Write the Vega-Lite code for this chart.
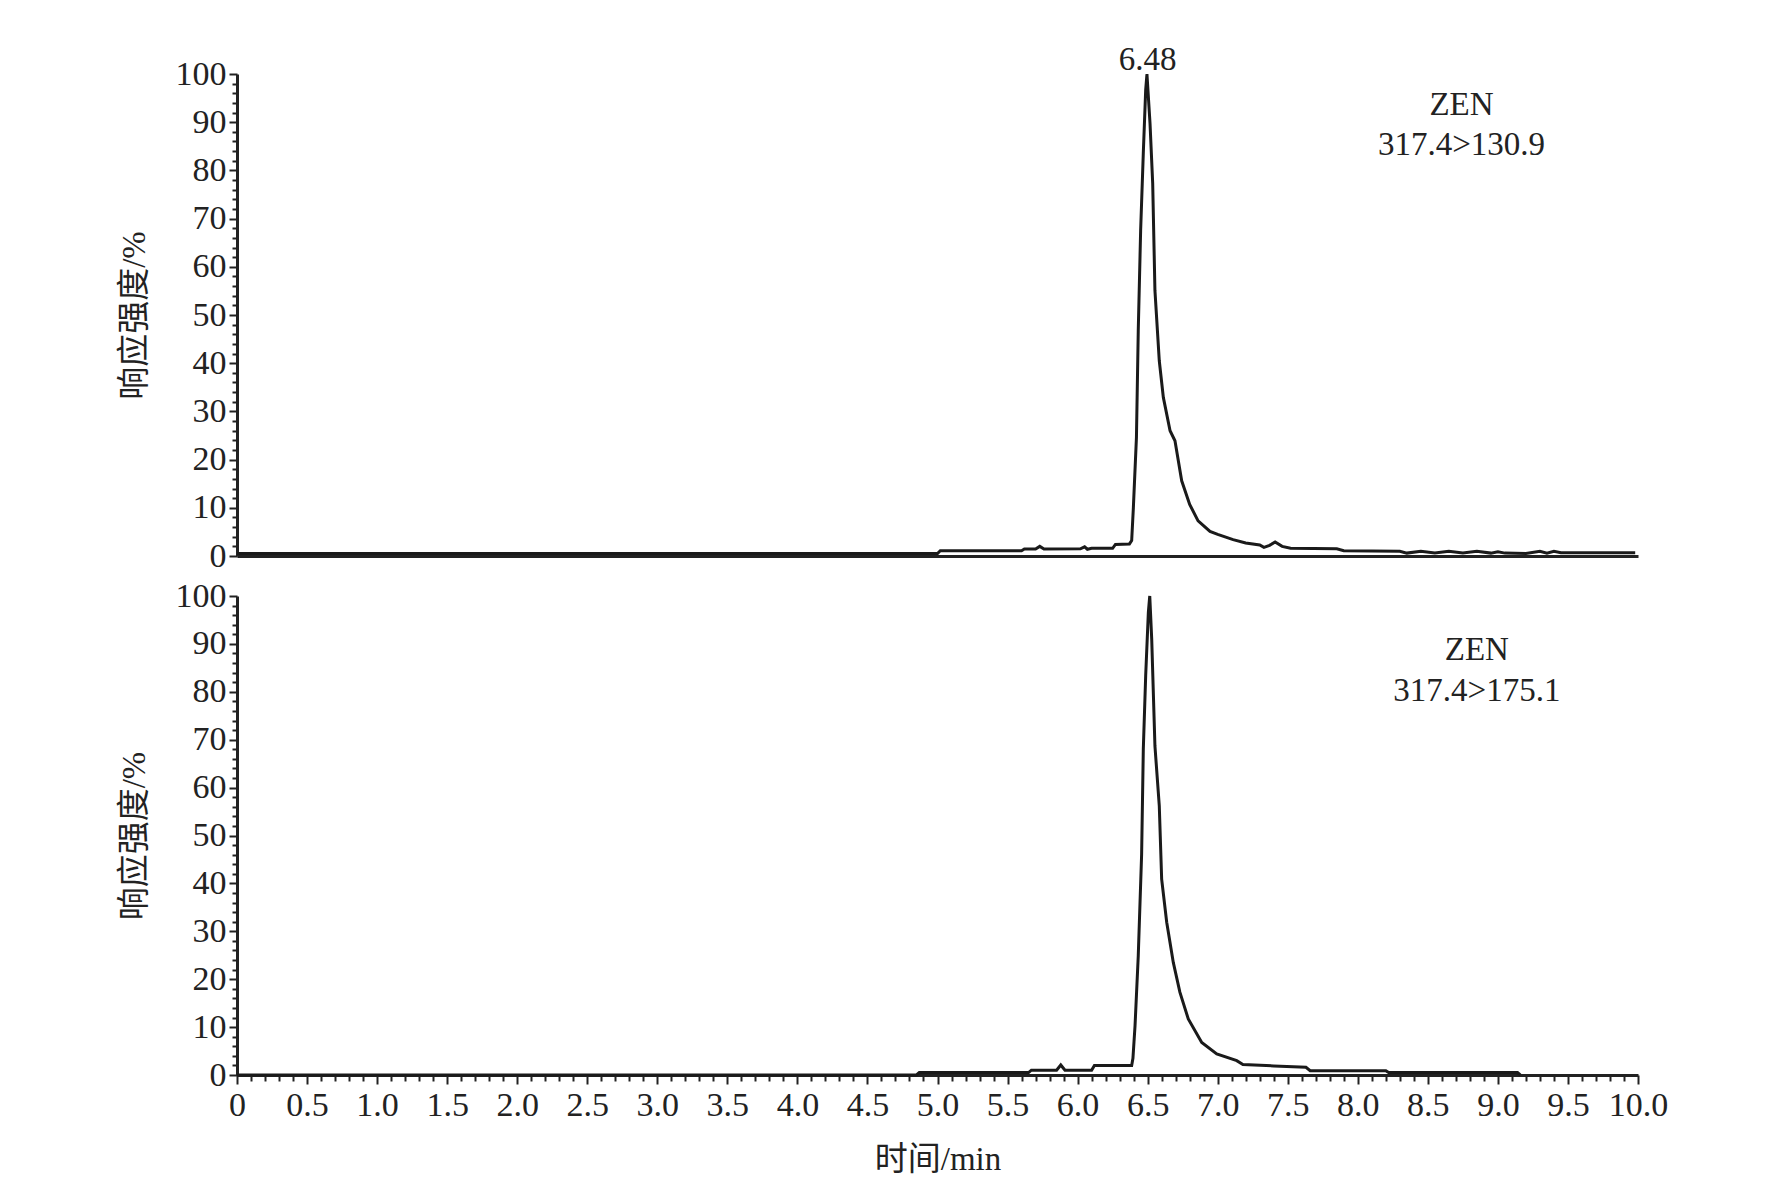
{
  "$schema": "https://vega.github.io/schema/vega-lite/v6.json",
  "padding": {"left": 118, "top": 44, "right": 10, "bottom": 10},
  "background": "white",
  "bounds": "flush",
  "spacing": 40,
  "config": {
    "view": {"stroke": null},
    "axis": {
      "domainColor": "#222",
      "domainWidth": 3,
      "tickColor": "#222",
      "tickWidth": 2,
      "labelFont": "Liberation Serif",
      "labelFontSize": 34,
      "labelColor": "#222",
      "titleFont": "Liberation Serif, Noto Sans CJK SC",
      "titleFontSize": 33,
      "titleFontWeight": "normal",
      "titleColor": "#222",
      "grid": false
    },
    "text": {"font": "Liberation Serif", "fontSize": 33, "color": "#222"}
  },
  "datasets": {
    "top": [
      {"t": 0, "v": 0.5}, {"t": 5.0, "v": 0.5}, {"t": 5.02, "v": 1.1}, {"t": 5.6, "v": 1.1},
      {"t": 5.62, "v": 1.45}, {"t": 5.7, "v": 1.45}, {"t": 5.73, "v": 2.0}, {"t": 5.76, "v": 1.45},
      {"t": 6.02, "v": 1.5}, {"t": 6.05, "v": 1.9}, {"t": 6.07, "v": 1.4}, {"t": 6.1, "v": 1.6},
      {"t": 6.25, "v": 1.6}, {"t": 6.27, "v": 2.4}, {"t": 6.37, "v": 2.5}, {"t": 6.386, "v": 3.2},
      {"t": 6.398, "v": 10}, {"t": 6.42, "v": 24.6}, {"t": 6.433, "v": 46.8}, {"t": 6.45, "v": 67.6},
      {"t": 6.469, "v": 83.6}, {"t": 6.486, "v": 96.7}, {"t": 6.495, "v": 100}, {"t": 6.517, "v": 89.7},
      {"t": 6.536, "v": 77.3}, {"t": 6.552, "v": 55.1}, {"t": 6.583, "v": 40.5}, {"t": 6.612, "v": 32.9},
      {"t": 6.66, "v": 26}, {"t": 6.695, "v": 23.9}, {"t": 6.743, "v": 15.6}, {"t": 6.8, "v": 10.7},
      {"t": 6.86, "v": 7.3}, {"t": 6.945, "v": 5.1}, {"t": 7.0, "v": 4.5}, {"t": 7.11, "v": 3.4},
      {"t": 7.2, "v": 2.7}, {"t": 7.3, "v": 2.3}, {"t": 7.33, "v": 1.8}, {"t": 7.37, "v": 2.2},
      {"t": 7.41, "v": 2.9}, {"t": 7.46, "v": 2.0}, {"t": 7.52, "v": 1.6}, {"t": 7.85, "v": 1.5},
      {"t": 7.9, "v": 1.1}, {"t": 8.3, "v": 1.0}, {"t": 8.35, "v": 0.6}, {"t": 8.45, "v": 1.0},
      {"t": 8.55, "v": 0.6}, {"t": 8.65, "v": 1.0}, {"t": 8.75, "v": 0.6}, {"t": 8.85, "v": 1.0},
      {"t": 8.95, "v": 0.6}, {"t": 9.0, "v": 0.9}, {"t": 9.05, "v": 0.6}, {"t": 9.2, "v": 0.5},
      {"t": 9.3, "v": 1.0}, {"t": 9.35, "v": 0.6}, {"t": 9.4, "v": 1.0}, {"t": 9.45, "v": 0.7},
      {"t": 9.98, "v": 0.7}
    ],
    "bottom": [
      {"t": 0, "v": 0}, {"t": 4.85, "v": 0}, {"t": 4.87, "v": 0.5}, {"t": 5.65, "v": 0.5},
      {"t": 5.67, "v": 1.0}, {"t": 5.85, "v": 1.0}, {"t": 5.88, "v": 2.1}, {"t": 5.91, "v": 1.0},
      {"t": 6.1, "v": 1.0}, {"t": 6.12, "v": 2.0}, {"t": 6.386, "v": 2.0}, {"t": 6.395, "v": 3.5},
      {"t": 6.41, "v": 10.3}, {"t": 6.433, "v": 24.9}, {"t": 6.457, "v": 46.1}, {"t": 6.469, "v": 68},
      {"t": 6.486, "v": 83.4}, {"t": 6.505, "v": 96.6}, {"t": 6.515, "v": 100}, {"t": 6.529, "v": 91},
      {"t": 6.552, "v": 68.7}, {"t": 6.583, "v": 56.2}, {"t": 6.6, "v": 40.9}, {"t": 6.636, "v": 31.9},
      {"t": 6.683, "v": 23.5}, {"t": 6.73, "v": 17.3}, {"t": 6.79, "v": 11.7}, {"t": 6.886, "v": 6.8},
      {"t": 6.993, "v": 4.4}, {"t": 7.136, "v": 3.0}, {"t": 7.18, "v": 2.2}, {"t": 7.4, "v": 1.9},
      {"t": 7.63, "v": 1.6}, {"t": 7.66, "v": 0.9}, {"t": 8.2, "v": 0.9}, {"t": 8.22, "v": 0.5},
      {"t": 9.14, "v": 0.5}, {"t": 9.16, "v": 0}
    ],
    "notesTop": [
      {"t": 6.5, "v": 102.9, "label": "6.48"},
      {"t": 8.74, "v": 93.6, "label": "ZEN"},
      {"t": 8.74, "v": 85.3, "label": "317.4>130.9"}
    ],
    "notesBottom": [
      {"t": 8.85, "v": 88.7, "label": "ZEN"},
      {"t": 8.85, "v": 80.2, "label": "317.4>175.1"}
    ]
  },
  "vconcat": [
    {
      "width": 1401,
      "height": 482,
      "encoding": {
        "x": {"field": "t", "type": "quantitative", "scale": {"domain": [0, 10], "nice": false},
          "axis": {"labels": false, "ticks": false, "title": null}},
        "y": {"field": "v", "type": "quantitative", "scale": {"domain": [0, 100], "nice": false},
          "axis": {
            "title": "响应强度/%",
            "titlePadding": 24,
            "values": [0,2,4,6,8,10,12,14,16,18,20,22,24,26,28,30,32,34,36,38,40,42,44,46,48,50,52,54,56,58,60,62,64,66,68,70,72,74,76,78,80,82,84,86,88,90,92,94,96,98,100],
            "labelExpr": "datum.value % 10 == 0 ? datum.label : ''",
            "labelOverlap": false,
            "labelPadding": 3,
            "tickSize": {"condition": {"test": "datum.value % 10 == 0", "value": 8}, "value": 5}
          }}
      },
      "layer": [
        {
          "data": {"name": "top"},
          "mark": {"type": "line", "color": "#1a1a1a", "strokeWidth": 3}
        },
        {
          "data": {"name": "notesTop"},
          "mark": {"type": "text", "baseline": "middle", "align": "center"},
          "encoding": {"text": {"field": "label"}}
        }
      ]
    },
    {
      "width": 1401,
      "height": 479,
      "encoding": {
        "x": {"field": "t", "type": "quantitative", "scale": {"domain": [0, 10], "nice": false},
          "axis": {
            "title": "时间/min",
            "titlePadding": 21,
            "values": [0,0.1,0.2,0.3,0.4,0.5,0.6,0.7,0.8,0.9,1,1.1,1.2,1.3,1.4,1.5,1.6,1.7,1.8,1.9,2,2.1,2.2,2.3,2.4,2.5,2.6,2.7,2.8,2.9,3,3.1,3.2,3.3,3.4,3.5,3.6,3.7,3.8,3.9,4,4.1,4.2,4.3,4.4,4.5,4.6,4.7,4.8,4.9,5,5.1,5.2,5.3,5.4,5.5,5.6,5.7,5.8,5.9,6,6.1,6.2,6.3,6.4,6.5,6.6,6.7,6.8,6.9,7,7.1,7.2,7.3,7.4,7.5,7.6,7.7,7.8,7.9,8,8.1,8.2,8.3,8.4,8.5,8.6,8.7,8.8,8.9,9,9.1,9.2,9.3,9.4,9.5,9.6,9.7,9.8,9.9,10],
            "labelExpr": "abs(datum.value*2 - round(datum.value*2)) < 0.01 ? (datum.value == 0 ? '0' : format(datum.value, '.1f')) : ''",
            "labelOverlap": false,
            "labelPadding": 4,
            "labelFlush": false,
            "tickSize": {"condition": {"test": "abs(datum.value*2 - round(datum.value*2)) < 0.01", "value": 9}, "value": 6}
          }},
        "y": {"field": "v", "type": "quantitative", "scale": {"domain": [0, 100], "nice": false},
          "axis": {
            "title": "响应强度/%",
            "titlePadding": 24,
            "values": [0,2,4,6,8,10,12,14,16,18,20,22,24,26,28,30,32,34,36,38,40,42,44,46,48,50,52,54,56,58,60,62,64,66,68,70,72,74,76,78,80,82,84,86,88,90,92,94,96,98,100],
            "labelExpr": "datum.value % 10 == 0 ? datum.label : ''",
            "labelOverlap": false,
            "labelPadding": 3,
            "tickSize": {"condition": {"test": "datum.value % 10 == 0", "value": 8}, "value": 5}
          }}
      },
      "layer": [
        {
          "data": {"name": "bottom"},
          "mark": {"type": "line", "color": "#1a1a1a", "strokeWidth": 3}
        },
        {
          "data": {"name": "notesBottom"},
          "mark": {"type": "text", "baseline": "middle", "align": "center"},
          "encoding": {"text": {"field": "label"}}
        }
      ]
    }
  ]
}
